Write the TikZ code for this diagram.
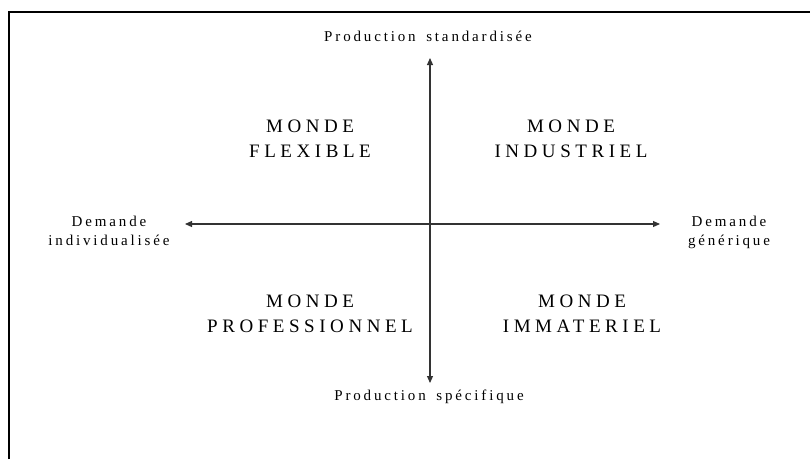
\documentclass[tikz,border=0pt]{standalone}
\usepackage{fontspec}
\setmainfont{Liberation Serif}
\newfontfamily\bigsp[LetterSpace=24]{Liberation Serif}
\newfontfamily\smallsp[LetterSpace=19,WordSpace=1.6]{Liberation Serif}
\usetikzlibrary{arrows.meta}
\begin{document}
\begin{tikzpicture}[x=1pt,y=-1pt,
  axis/.style={line width=1.1pt, draw=black!80, {Triangle[length=7pt,width=6pt]}-{Triangle[length=7pt,width=6pt]}},
  frame/.style={line width=2pt, draw=black},
  world/.style={inner sep=0pt, align=center, font=\bigsp\fontsize{19}{25}\selectfont},
  lab/.style={inner sep=0pt, align=center, font=\smallsp\fontsize{15}{18.5}\selectfont}]
\useasboundingbox (0,0) rectangle (810,459);
\draw[frame] (8.5,459) -- (8.5,12) -- (810,12);
\coordinate (top) at (430,58);
\coordinate (bot) at (430,383);
\coordinate (lft) at (185,224);
\coordinate (rgt) at (660,224);
\draw[axis] (bot) -- (top);
\draw[axis] (lft) -- (rgt);
\node[lab, anchor=base] (ps) at (428,41) {Production standardisée};
\node[lab, anchor=base] (pf) at (429,400) {Production spécifique};
\node[lab] (di) at (109,232.3) {\strut Demande\\\strut individualisée};
\node[lab] (dg) at (729,232.3) {\strut Demande\\\strut générique};
\node[world] (fl) at (310,139.5) {\strut MONDE\\\strut FLEXIBLE};
\node[world] (in) at (571,139.5) {\strut MONDE\\\strut INDUSTRIEL};
\node[world] (pr) at (310,315) {\strut MONDE\\\strut PROFESSIONNEL};
\node[world] (im) at (582,315) {\strut MONDE\\\strut IMMATERIEL};
\end{tikzpicture}
\end{document}
